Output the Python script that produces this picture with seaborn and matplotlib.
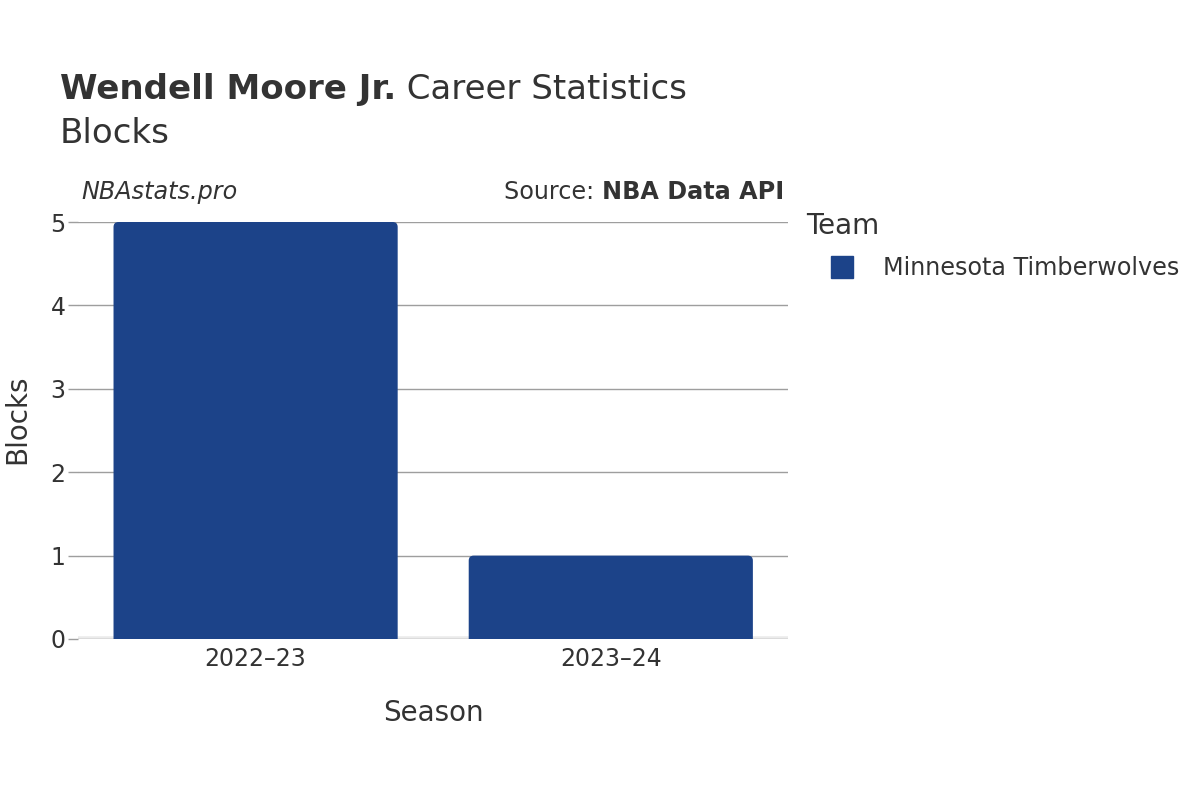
import matplotlib
matplotlib.use("Agg")
import matplotlib.pyplot as plt
import seaborn as sns
import pandas as pd
from matplotlib.lines import Line2D
from matplotlib.patches import FancyBboxPatch

seasons = ["2022\u201323", "2023\u201324"]
blocks = [5, 1]
teams = ["Minnesota Timberwolves", "Minnesota Timberwolves"]
team_colors = {"Minnesota Timberwolves": "#1c4389"}
y_ticks = [0, 1, 2, 3, 4, 5]

df = pd.DataFrame({"Season": seasons, "Blocks": blocks, "Team": teams})

sns.set_theme(style="white")
plt.rcParams['font.family'] = ['DejaVu Sans']
text_color = "#333333"

fig = plt.figure(figsize=(12, 8), dpi=100)
ax = fig.add_axes([0.065, 0.20125, 0.592, 0.52125])

sns.barplot(data=df, x="Season", y="Blocks", hue="Team", palette=team_colors,
            width=0.8, ax=ax, legend=False, saturation=1)

ax.set_ylim(0, 5)
ax.set_xlim(-0.5, 1.5)
ax.set_yticks(y_ticks)
ax.grid(axis="y", color="#9e9e9e", linewidth=1)
ax.set_axisbelow(True)
for s in ax.spines.values():
    s.set_visible(False)
ax.axhline(0, color="#ebebeb", linewidth=4, zorder=0.5)

# rounded top corners for bars (bottom part extends below axis and is clipped)
fig.canvas.draw()
bbox_ax = ax.get_window_extent()
x_per_px = (ax.get_xlim()[1] - ax.get_xlim()[0]) / bbox_ax.width
y_per_px = (ax.get_ylim()[1] - ax.get_ylim()[0]) / bbox_ax.height
radius_px = 5
for p in list(ax.patches):
    x, y = p.get_x(), p.get_y()
    w, h = p.get_width(), p.get_height()
    fc = p.get_facecolor()
    p.remove()
    ext = 3 * radius_px * y_per_px
    fb = FancyBboxPatch((x, y - ext), w, h + ext,
                        boxstyle=f"round,pad=0,rounding_size={radius_px * x_per_px}",
                        mutation_aspect=y_per_px / x_per_px,
                        facecolor=fc, edgecolor="none", zorder=2)
    ax.add_patch(fb)
    fb.set_clip_path(ax.patch)

ax.tick_params(axis="y", length=7, color="#9e9e9e", width=1, labelsize=17,
               labelcolor=text_color, pad=2, left=True)
ax.tick_params(axis="x", length=0, labelsize=17, labelcolor=text_color, pad=6)
ax.set_xlabel("Season", fontsize=20, color=text_color, labelpad=20)
ax.set_ylabel("Blocks", fontsize=20, color=text_color, labelpad=14)
ax.yaxis.label.set_y(0.527)

t1 = fig.text(0.05, 0.876, "Wendell Moore Jr.", fontsize=24.5, fontweight="bold",
              color=text_color, va="baseline")
fig.canvas.draw()
b1 = t1.get_window_extent()
fig.text(b1.x1 / fig.bbox.width, 0.876, " Career Statistics", fontsize=24.5,
         color=text_color, va="baseline")
fig.text(0.05, 0.821, "Blocks", fontsize=24.5, color=text_color, va="baseline")

fig.text(0.068, 0.751, "NBAstats.pro", fontsize=17.2, style="italic",
         color=text_color, va="baseline")
src = fig.text(0.6535, 0.751, "NBA Data API", fontsize=17.2, fontweight="bold",
               color=text_color, va="baseline", ha="right")
fig.canvas.draw()
bb = src.get_window_extent()
fig.text(bb.x0 / fig.bbox.width, 0.751, "Source: ", fontsize=17.2,
         color=text_color, va="baseline", ha="right")

fig.text(0.6715, 0.707, "Team", fontsize=20, color=text_color, va="baseline")
uniq = list(dict.fromkeys(teams))
handles = [Line2D([0], [0], marker="s", linestyle="", markersize=16,
                  markerfacecolor=team_colors[t], markeredgecolor=team_colors[t])
           for t in uniq]
leg = fig.legend(handles, uniq, loc="upper left", bbox_to_anchor=(0.668, 0.701),
                 frameon=False, fontsize=17.2, handletextpad=0.7,
                 labelspacing=0.8, borderpad=0.2)
for t in leg.get_texts():
    t.set_color(text_color)

fig.savefig("out.png", dpi=100)
